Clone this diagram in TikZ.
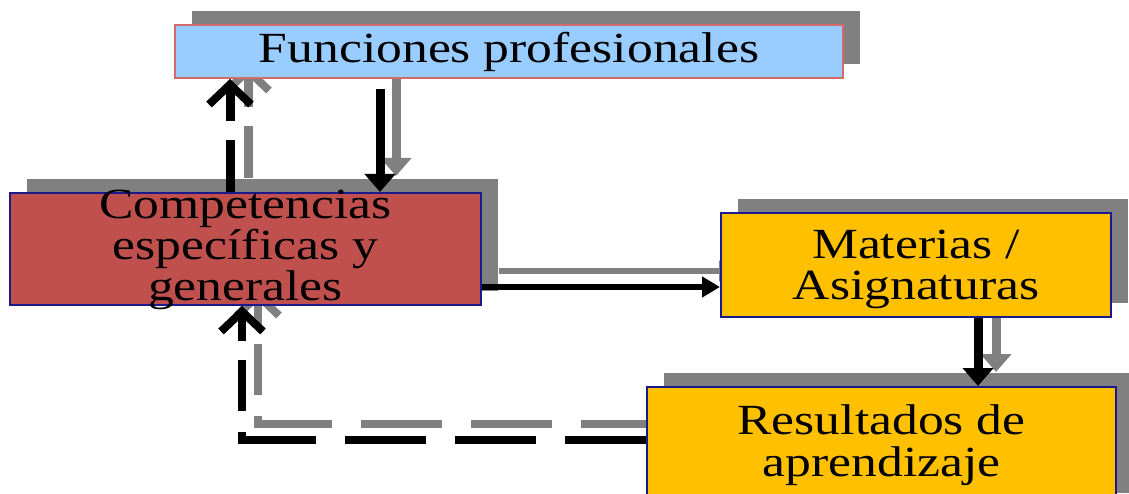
\documentclass[tikz,border=0pt]{standalone}
\usepackage{fontspec}
\setmainfont{Liberation Serif}[FakeStretch=1.2]
\usetikzlibrary{arrows.meta,calc,shadows}
\definecolor{fpblue}{HTML}{99CCFF}
\definecolor{fpborder}{HTML}{D46A6A}
\definecolor{cred}{HTML}{C0504D}
\definecolor{myellow}{HTML}{FFC000}
\definecolor{navy}{HTML}{1A1A8C}
\definecolor{shgray}{HTML}{808080}
\newcommand\boxlines[3]{\raisebox{#1}[0pt][0pt]{\fontsize{43}{#2}\selectfont\begin{tabular}{@{}c@{}}#3\end{tabular}}}
\pgfdeclarelayer{back}
\pgfsetlayers{back,main}
\begin{document}
\begin{tikzpicture}[x=1pt,y=-1pt,
  box/.style={draw, line width=2pt, rectangle, inner sep=0pt, align=center,
    font=\fontsize{43}{39}\selectfont,
    drop shadow={shadow xshift=17pt, shadow yshift=14pt, fill=shgray, opacity=1}},
  vsolid/.style={line width=9pt, -{Triangle[length=18pt,width=30pt]}},
  hsolid/.style={line width=5.5pt, -{Triangle[length=18pt,width=20pt]}},
  barb/.style={-{Straight Barb[length=20pt,width=42pt,line width=8pt]}},
  updash/.style={barb, line width=9pt, dash pattern=on 52pt off 19pt on 300pt off 1pt},
  backdash/.style={barb, line width=7.5pt,
    dash pattern=on 81pt off 29pt on 81pt off 29pt on 81pt off 29pt on 82pt off 21pt on 51pt off 19pt on 300pt off 1pt},
]
\useasboundingbox (0,0) rectangle (1129,494);
\clip (0,0) rectangle (1129,494);

% boxes
\node[box, fill=fpblue, draw=fpborder, minimum width=668pt, minimum height=53pt]
  (f) at (509,51.5) {\raisebox{-11pt}[0pt][0pt]{Funciones profesionales}};
\node[box, fill=cred, draw=navy, minimum width=471pt, minimum height=112pt]
  (c) at (245.5,249) {\boxlines{-8pt}{37}{Competencias\\específicas y\\generales}};
\node[box, fill=myellow, draw=navy, minimum width=390pt, minimum height=104pt]
  (m) at (916,265) {\boxlines{-12pt}{40}{Materias /\\Asignaturas}};
\node[box, fill=myellow, draw=navy, minimum width=469pt, minimum height=120pt]
  (r) at (881.5,447) {\boxlines{-6pt}{40}{Resultados de\\aprendizaje}};

% anchor points for connectors
\coordinate (a1s) at ([xshift=-129pt]f.south);
\coordinate (a1e) at (a1s |- c.north);
\coordinate (a2s) at ([xshift=-15.5pt]c.north);
\coordinate (a2e) at (a2s |- f.south);
\coordinate (a3s) at ([yshift=-38pt]c.east);
\coordinate (a3e) at (a3s -| m.west);
\coordinate (a4s) at ([xshift=62pt]m.south);
\coordinate (a4e) at (a4s |- r.north);
\coordinate (a5s) at ([yshift=7pt]r.west);
\coordinate (a5e) at ([xshift=-3.5pt]c.south);

% shadow connectors (behind the boxes)
\begin{pgfonlayer}{back}
  \draw[vsolid, shgray] ([shift={(16,-16)}]a1s) -- ([shift={(16,-16)}]a1e);
  \draw[updash, shgray] ([shift={(18,-14)}]a2s) -- ([shift={(18,-14)}]a2e);
  \draw[hsolid, shgray] ([shift={(17,-16)}]a3s) -- ([shift={(17,-16)}]a3e);
  \draw[vsolid, shgray] ([shift={(18,-14)}]a4s) -- ([shift={(18,-14)}]a4e);
  \draw[backdash, shgray] ([shift={(16,-16)}]a5s) -| ([shift={(16,-16)}]a5e);
\end{pgfonlayer}

% black connectors
\draw[vsolid, shorten <=10pt] (a1s) -- (a1e);
\draw[updash] (a2s) -- (a2e);
\draw[hsolid] (a3s) -- (a3e);
\draw[vsolid] (a4s) -- (a4e);
\draw[backdash] (a5s) -| (a5e);
\end{tikzpicture}
\end{document}
